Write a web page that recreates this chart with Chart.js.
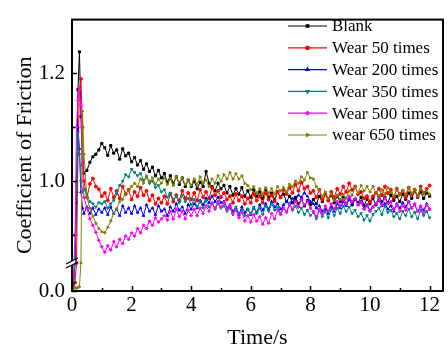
<!DOCTYPE html>
<html>
<head>
<meta charset="utf-8">
<script src="https://cdn.jsdelivr.net/npm/chart.js@4.4.1/dist/chart.umd.min.js"></script>
<style>
  body { margin: 0; background: #fff; }
  canvas { display: block; }
</style>
</head>
<body>
<canvas id="grafico" width="448" height="347"></canvas>
<script>
// time axis (s)
const tempo = [0, 0.05, 0.1, 0.15, 0.2, 0.25, 0.3, 0.35, 0.4, 0.5, 0.6, 0.7, 0.8, 0.9, 1.0,
  1.1, 1.2, 1.3, 1.4, 1.5, 1.6, 1.7, 1.8, 1.9, 2.0,
  2.1, 2.2, 2.3, 2.4, 2.5, 2.6, 2.7, 2.8, 2.9, 3.0,
  3.1, 3.2, 3.3, 3.4, 3.5, 3.6, 3.7, 3.8, 3.9, 4.0,
  4.1, 4.2, 4.3, 4.4, 4.5, 4.6, 4.7, 4.8, 4.9, 5.0,
  5.1, 5.2, 5.3, 5.4, 5.5, 5.6, 5.7, 5.8, 5.9, 6.0,
  6.1, 6.2, 6.3, 6.4, 6.5, 6.6, 6.7, 6.8, 6.9, 7.0,
  7.1, 7.2, 7.3, 7.4, 7.5, 7.6, 7.7, 7.8, 7.9, 8.0,
  8.1, 8.2, 8.3, 8.4, 8.5, 8.6, 8.7, 8.8, 8.9, 9.0,
  9.1, 9.2, 9.3, 9.4, 9.5, 9.6, 9.7, 9.8, 9.9, 10.0,
  10.1, 10.2, 10.3, 10.4, 10.5, 10.6, 10.7, 10.8, 10.9, 11.0,
  11.1, 11.2, 11.3, 11.4, 11.5, 11.6, 11.7, 11.8, 11.9, 12.0];

const rotulos = ['Blank', 'Wear 50 times', 'Wear 200 times', 'Wear 350 times', 'Wear 500 times', 'wear 650 times'];
const cores = ['#000000', '#FF0000', '#0000FF', '#008080', '#FF00FF', '#808000'];
const marcadores = ['rect', 'circle', 'triangle', 'triangle', 'rectRot', 'triangle'];
const rotacoes = [0, 0, 0, 180, 0, 90];

const blank = [0.02, 0.03, 0.5, 0.96, 1.17, 1.24, 1.12, 1.03, 1.015, 1.02, 1.035, 1.045, 1.05, 1.058, 1.07,
  1.062, 1.048, 1.066, 1.052, 1.058, 1.041, 1.06, 1.047, 1.052, 1.036,
  1.044, 1.03, 1.038, 1.022, 1.032, 1.018, 1.026, 1.01, 1.02, 1.006,
  1.014, 0.998, 1.01, 0.996, 1.008, 0.994, 1.006, 0.99, 1.002, 0.99,
  1.0, 0.986, 0.998, 0.99, 1.018, 0.996, 0.99, 0.982, 0.996, 0.986,
  0.992, 0.978, 0.99, 0.974, 0.986, 0.976, 0.988, 0.972, 0.982, 0.97,
  0.984, 0.972, 0.98, 0.968, 0.984, 0.97, 0.978, 0.966, 0.98, 0.97,
  0.976, 0.962, 0.972, 0.96, 0.97, 0.958, 0.966, 0.954, 0.964, 0.956,
  0.966, 0.958, 0.972, 0.962, 0.976, 0.964, 0.974, 0.96, 0.972, 0.962,
  0.97, 0.958, 0.968, 0.956, 0.966, 0.96, 0.97, 0.955, 0.966, 0.958,
  0.968, 0.956, 0.972, 0.962, 0.97, 0.96, 0.974, 0.964, 0.972, 0.962,
  0.976, 0.966, 0.978, 0.968, 0.982, 0.97, 0.98, 0.968, 0.978, 0.972];

const wear50 = [0.01, 0.015, 0.03, 0.6, 1.05, 1.17, 1.19, 1.1, 1.0, 0.97, 0.995, 1.005, 0.99, 0.985, 0.972,
  0.978, 0.964, 0.986, 0.97, 0.982, 0.968, 0.99, 0.976, 0.984, 0.966,
  0.98, 0.972, 0.988, 0.974, 0.982, 0.964, 0.974, 0.958, 0.968, 0.96,
  0.972, 0.958, 0.976, 0.962, 0.974, 0.964, 0.982, 0.968, 0.978, 0.966,
  0.978, 0.964, 0.984, 0.97, 0.98, 0.968, 0.988, 0.974, 0.982, 0.97,
  0.978, 0.966, 0.972, 0.96, 0.976, 0.964, 0.972, 0.958, 0.968, 0.96,
  0.976, 0.964, 0.972, 0.96, 0.978, 0.966, 0.974, 0.962, 0.98, 0.97,
  0.984, 0.976, 0.988, 0.978, 0.994, 0.982, 0.998, 0.986, 0.99, 0.978,
  0.982, 0.97, 0.984, 0.966, 0.976, 0.964, 0.98, 0.97, 0.986, 0.976,
  0.99, 0.98, 0.996, 0.984, 0.99, 0.976, 0.98, 0.968, 0.972, 0.962,
  0.972, 0.978, 0.986, 0.974, 0.99, 0.978, 0.984, 0.97, 0.986, 0.976,
  0.982, 0.97, 0.988, 0.976, 0.984, 0.972, 0.99, 0.978, 0.986, 0.992];

const wear200 = [0.01, 0.03, 0.7, 0.98, 1.1, 1.06, 0.98, 0.95, 0.94, 0.952, 0.94, 0.95, 0.938, 0.948, 0.942,
  0.95, 0.938, 0.952, 0.94, 0.948, 0.936, 0.954, 0.942, 0.95, 0.94,
  0.954, 0.942, 0.95, 0.936, 0.956, 0.944, 0.95, 0.938, 0.954, 0.944,
  0.948, 0.936, 0.952, 0.944, 0.958, 0.946, 0.952, 0.94, 0.956, 0.948,
  0.958, 0.95, 0.964, 0.956, 0.968, 0.96, 0.972, 0.962, 0.97, 0.96,
  0.962, 0.95, 0.956, 0.944, 0.95, 0.938, 0.952, 0.942, 0.948, 0.938,
  0.95, 0.942, 0.956, 0.946, 0.958, 0.948, 0.962, 0.952, 0.958, 0.948,
  0.956, 0.962, 0.958, 0.968, 0.964, 0.974, 0.97, 0.978, 0.972, 0.962,
  0.958, 0.95, 0.954, 0.944, 0.948, 0.94, 0.952, 0.944, 0.958, 0.95,
  0.962, 0.954, 0.966, 0.958, 0.968, 0.956, 0.962, 0.95, 0.956, 0.946,
  0.952, 0.958, 0.964, 0.954, 0.958, 0.948, 0.954, 0.944, 0.958, 0.95,
  0.96, 0.952, 0.962, 0.95, 0.956, 0.944, 0.952, 0.946, 0.958, 0.948];

const wear350 = [0.01, 0.04, 0.6, 0.99, 1.09, 1.05, 1.0, 0.98, 0.985, 0.975, 0.962, 0.958, 0.952, 0.96, 0.958,
  0.962, 0.95, 0.958, 0.964, 0.976, 0.992, 1.0, 1.012, 1.008, 1.022,
  1.016, 1.01, 1.014, 1.002, 1.008, 0.996, 1.0, 0.988, 0.992, 0.98,
  0.984, 0.97, 0.978, 0.966, 0.972, 0.96, 0.974, 0.962, 0.968, 0.956,
  0.966, 0.952, 0.962, 0.95, 0.964, 0.952, 0.96, 0.948, 0.958, 0.95,
  0.954, 0.944, 0.95, 0.938, 0.952, 0.94, 0.946, 0.936, 0.948, 0.94,
  0.952, 0.94, 0.95, 0.938, 0.954, 0.944, 0.958, 0.946, 0.952, 0.94,
  0.95, 0.944, 0.958, 0.946, 0.954, 0.942, 0.95, 0.938, 0.946, 0.936,
  0.942, 0.93, 0.946, 0.934, 0.944, 0.932, 0.948, 0.936, 0.95, 0.94,
  0.954, 0.944, 0.952, 0.94, 0.946, 0.934, 0.94, 0.928, 0.936, 0.926,
  0.938, 0.944, 0.95, 0.938, 0.954, 0.942, 0.946, 0.934, 0.94, 0.93,
  0.944, 0.936, 0.948, 0.934, 0.942, 0.93, 0.946, 0.936, 0.944, 0.932];

const wear500 = [0.005, 0.06, 0.9, 1.1, 1.15, 1.17, 1.14, 1.03, 0.97, 0.95, 0.93, 0.918, 0.905, 0.89, 0.878,
  0.868, 0.88, 0.872, 0.888, 0.878, 0.892, 0.884, 0.898, 0.892, 0.904,
  0.898, 0.912, 0.904, 0.918, 0.912, 0.926, 0.918, 0.932, 0.924, 0.93,
  0.936, 0.928, 0.944, 0.93, 0.948, 0.934, 0.944, 0.93, 0.946, 0.936,
  0.948, 0.936, 0.95, 0.94, 0.954, 0.944, 0.958, 0.95, 0.962, 0.952,
  0.96, 0.948, 0.954, 0.94, 0.946, 0.932, 0.942, 0.926, 0.936, 0.924,
  0.938, 0.926, 0.934, 0.92, 0.932, 0.922, 0.94, 0.93, 0.946, 0.938,
  0.95, 0.942, 0.956, 0.948, 0.962, 0.952, 0.966, 0.956, 0.962, 0.95,
  0.944, 0.934, 0.948, 0.94, 0.954, 0.944, 0.958, 0.948, 0.962, 0.954,
  0.966, 0.958, 0.972, 0.962, 0.968, 0.956, 0.96, 0.948, 0.954, 0.944,
  0.952, 0.958, 0.966, 0.956, 0.968, 0.958, 0.962, 0.948, 0.956, 0.944,
  0.954, 0.946, 0.962, 0.95, 0.958, 0.944, 0.954, 0.942, 0.956, 0.948];

const wear650 = [0.01, 0.01, 0.012, 0.01, 0.012, 0.015, 0.8, 1.13, 1.05, 0.97, 0.95, 0.935, 0.922, 0.912, 0.906,
  0.904, 0.914, 0.926, 0.94, 0.948, 0.962, 0.966, 0.978, 0.982, 0.99,
  0.996, 0.99, 1.004, 0.996, 1.01, 1.0, 1.006, 0.994, 1.004, 0.996,
  1.006, 0.994, 1.004, 0.992, 1.008, 0.998, 1.006, 0.994, 1.002, 0.992,
  1.004, 0.994, 1.008, 0.996, 1.002, 0.99, 1.004, 0.996, 1.01, 1.0,
  1.012, 1.004, 1.016, 1.004, 1.014, 1.004, 1.01, 0.996, 0.992, 0.984,
  0.99, 0.978, 0.986, 0.976, 0.988, 0.978, 0.986, 0.976, 0.99, 0.982,
  0.988, 0.98, 0.994, 0.99, 1.0, 0.996, 1.008, 1.002, 1.016, 1.006,
  1.004, 0.99, 0.982, 0.972, 0.98, 0.968, 0.976, 0.964, 0.974, 0.966,
  0.976, 0.968, 0.982, 0.974, 0.988, 0.978, 0.992, 0.982, 0.99, 0.98,
  0.99, 0.978, 0.972, 0.984, 0.976, 0.988, 0.98, 0.972, 0.984, 0.974,
  0.982, 0.976, 0.988, 0.978, 0.984, 0.972, 0.986, 0.976, 0.982, 0.976];

const series = [blank, wear50, wear200, wear350, wear500, wear650];

// y ticks (0.9 and 1.1 are minor, unlabelled)
const yTicks = [0, 0.9, 1.0, 1.1, 1.2];
const yLabels = { 0: '0.0', 1: '1.0', 1.2: '1.2' };

// broken axis: 0..0.1 below the break, 0.848..1.3 above it
const quebraBaixo = 0.1;
const quebraAlto = 0.848;
const alturaBaixo = 28;

const fonte = "'Liberation Serif', 'Times New Roman', serif";

class EscalaQuebrada extends Chart.LinearScale {
  static id = 'quebrada';
  static defaults = {};
  buildTicks() {
    return yTicks.map(v => ({ value: v }));
  }
  getPixelForValue(v) {
    const brk = this.bottom - alturaBaixo;
    if (v <= quebraBaixo) return this.bottom - (v - this.min) / (quebraBaixo - this.min) * alturaBaixo;
    if (v < quebraAlto) return brk;
    return brk - (v - quebraAlto) / (this.max - quebraAlto) * (brk - this.top);
  }
  getValueForPixel(p) {
    const brk = this.bottom - alturaBaixo;
    if (p >= brk) return this.min + (this.bottom - p) / alturaBaixo * (quebraBaixo - this.min);
    return quebraAlto + (brk - p) / (brk - this.top) * (this.max - quebraAlto);
  }
}
Chart.register(EscalaQuebrada);

// frame, inward ticks, axis break and legend
const moldura = {
  id: 'moldura',
  afterDraw(chart) {
    const ctx = chart.ctx;
    const a = chart.chartArea;
    const xs = chart.scales.x, ys = chart.scales.y;
    ctx.save();
    ctx.strokeStyle = '#000';
    ctx.lineWidth = 2;
    ctx.strokeRect(a.left, a.top, a.right - a.left, a.bottom - a.top);

    ctx.lineWidth = 1.5;
    ctx.beginPath();
    xs.ticks.forEach(t => {
      const px = Math.round(xs.getPixelForValue(t.value)) + 0.5;
      const len = t.value % 2 === 0 ? 5 : 3;
      ctx.moveTo(px, a.bottom);
      ctx.lineTo(px, a.bottom - len);
    });
    ys.ticks.forEach(t => {
      const py = Math.round(ys.getPixelForValue(t.value)) + 0.5;
      const len = t.label !== '' ? 5 : 3;
      ctx.moveTo(a.left, py);
      ctx.lineTo(a.left + len, py);
    });
    ctx.stroke();

    // break marks
    const yb = a.bottom - alturaBaixo;
    ctx.fillStyle = '#fff';
    ctx.beginPath();
    ctx.moveTo(a.left - 3, yb + 3.5);
    ctx.lineTo(a.left + 3, yb + 0.5);
    ctx.lineTo(a.left + 3, yb - 3.5);
    ctx.lineTo(a.left - 3, yb - 0.5);
    ctx.closePath();
    ctx.fill();
    ctx.lineWidth = 1.2;
    ctx.beginPath();
    ctx.moveTo(a.left - 6, yb + 1);
    ctx.lineTo(a.left + 6, yb - 5);
    ctx.moveTo(a.left - 6, yb + 5);
    ctx.lineTo(a.left + 6, yb - 1);
    ctx.stroke();

    // legend
    ctx.font = '17px ' + fonte;
    ctx.textBaseline = 'middle';
    ctx.textAlign = 'left';
    rotulos.forEach((r, i) => {
      const y = 26 + i * 21.8;
      ctx.strokeStyle = cores[i];
      ctx.lineWidth = 1.2;
      ctx.beginPath();
      ctx.moveTo(288, y);
      ctx.lineTo(327, y);
      ctx.stroke();
      ctx.fillStyle = cores[i];
      Chart.helpers.drawPoint(ctx, { pointStyle: marcadores[i], radius: 1.8, borderWidth: 1, rotation: rotacoes[i] }, 307.5, y);
      ctx.fillStyle = '#000';
      ctx.fillText(r, 332, y + 1);
    });
    ctx.restore();
  }
};

const datasets = series.map((s, i) => ({
  label: rotulos[i],
  data: tempo.map((t, k) => ({ x: t, y: s[k] })),
  borderColor: cores[i],
  backgroundColor: cores[i],
  borderWidth: 1,
  pointStyle: marcadores[i],
  pointRotation: rotacoes[i],
  pointRadius: 1.5,
  pointBorderWidth: 1,
  order: 5 - i
}));

new Chart(document.getElementById('grafico'), {
  type: 'line',
  data: { datasets },
  options: {
    responsive: false,
    animation: false,
    events: [],
    layout: { padding: { top: 12, right: 1, bottom: 0, left: 0 } },
    plugins: { legend: { display: false }, tooltip: { enabled: false } },
    scales: {
      x: {
        type: 'linear',
        min: 0,
        max: 12.45,
        grid: { display: false, drawTicks: false },
        border: { display: false },
        afterFit: s => { s.height = 56; },
        ticks: {
          stepSize: 1,
          autoSkip: false,
          includeBounds: false,
          maxRotation: 0,
          padding: 2,
          color: '#000',
          font: { family: fonte, size: 21 },
          callback: v => (v % 2 === 0 ? String(v) : '')
        },
        title: {
          display: true,
          text: 'Time/s',
          color: '#000',
          font: { family: fonte, size: 22, lineHeight: 1 },
          padding: { top: 0, bottom: -2 }
        }
      },
      y: {
        type: 'quebrada',
        min: 0,
        max: 1.3,
        grid: { display: false, drawTicks: false },
        border: { display: false },
        afterFit: s => { s.width = 72; },
        ticks: {
          autoSkip: false,
          padding: 7,
          color: '#000',
          font: { family: fonte, size: 21 },
          callback: v => (yLabels[v] !== undefined ? yLabels[v] : '')
        },
        title: {
          display: true,
          text: 'Coefficient of Friction',
          color: '#000',
          font: { family: fonte, size: 22, lineHeight: 1.2 },
          padding: { top: 12, bottom: 0 }
        }
      }
    }
  },
  plugins: [moldura]
});
</script>
</body>
</html>
